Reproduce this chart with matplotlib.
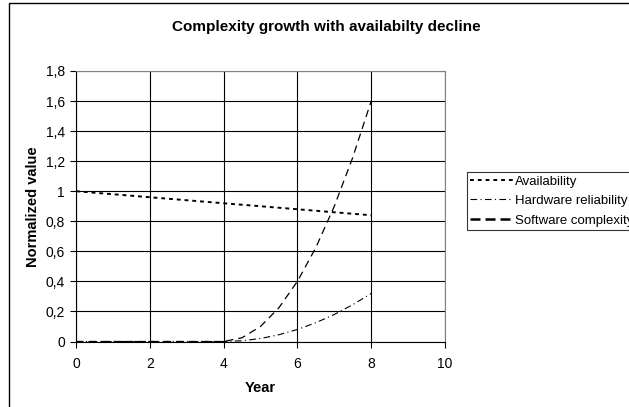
import numpy as np
import matplotlib.pyplot as plt
from matplotlib.patches import Rectangle
from matplotlib.ticker import FuncFormatter

years = [0, 0.5, 1, 1.5, 2, 2.5, 3, 3.5, 4, 4.5, 5, 5.5, 6, 6.5, 7, 7.5, 8]
availability = [1.0, 0.99, 0.98, 0.97, 0.96, 0.95, 0.94, 0.93, 0.92, 0.91, 0.90,
                0.89, 0.88, 0.87, 0.86, 0.85, 0.84]
hw_reliability = [0, 0, 0, 0, 0, 0, 0, 0, 0, 0.005, 0.02, 0.045, 0.08, 0.125,
                  0.18, 0.245, 0.32]
sw_complexity = [0, 0, 0, 0, 0, 0, 0, 0, 0, 0.025, 0.1, 0.225, 0.4, 0.625,
                 0.9, 1.225, 1.6]

plt.rcParams['font.family'] = ['Liberation Sans', 'DejaVu Sans']

fig = plt.figure(figsize=(6.29, 4.07), dpi=100)
# outer chart border
fig.patches.append(Rectangle((9 / 629, -0.1), 1.2, 1 - 3 / 407 + 0.1,
                             transform=fig.transFigure, fill=False,
                             edgecolor='black', linewidth=1.0))

ax = fig.add_axes([76 / 629, 1 - 341.5 / 407, (445 - 76) / 629, (341.5 - 71) / 407])
ax.plot(years, availability, color='black', linewidth=1.4, linestyle=(0, (2, 2)),
        label='Availability')
ax.plot(years, hw_reliability, color='black', linewidth=0.8,
        linestyle=(0, (6, 3, 1, 3)), label='Hardware reliability')
ax.plot(years, sw_complexity, color='black', linewidth=0.9, linestyle=(0, (6, 4)),
        label='Software complexity')

ax.set_xlim(0, 10)
ax.set_ylim(0, 1.8)
ax.set_xticks(np.arange(0, 11, 2))
ax.set_yticks(np.arange(0, 1.81, 0.2))
ax.yaxis.set_major_formatter(FuncFormatter(
    lambda v, p: ('%g' % round(v, 1)).replace('.', ',')))
ax.grid(True, color='black', linewidth=0.8)
ax.set_axisbelow(True)
for side in ['top', 'right']:
    ax.spines[side].set_color('#808080')
ax.tick_params(labelsize=10, length=4, width=0.8)
ax.tick_params(axis='x', pad=7)
ax.tick_params(axis='y', pad=4)

ax.set_xlabel('Year', fontsize=10.5, fontweight='bold', labelpad=7)
ax.set_ylabel('Normalized value', fontsize=10.5, fontweight='bold', labelpad=4)
fig.text(326 / 629, 1 - 27 / 407, 'Complexity growth with availabilty decline',
         ha='center', va='center', fontsize=11, fontweight='bold')

h, l = ax.get_legend_handles_labels()
h[2] = plt.Line2D([], [], color='black', linewidth=1.8, linestyle=(0, (4, 2)))
leg = fig.legend(h, l, loc='upper left', bbox_to_anchor=(467 / 629, 1 - 172 / 407),
                 fontsize=9.5, frameon=True, fancybox=False, edgecolor='black',
                 handlelength=3.2, handletextpad=0.2, labelspacing=0.55,
                 borderaxespad=0, borderpad=0.25)
leg.get_frame().set_linewidth(0.8)

plt.savefig('out.png', dpi=100)
